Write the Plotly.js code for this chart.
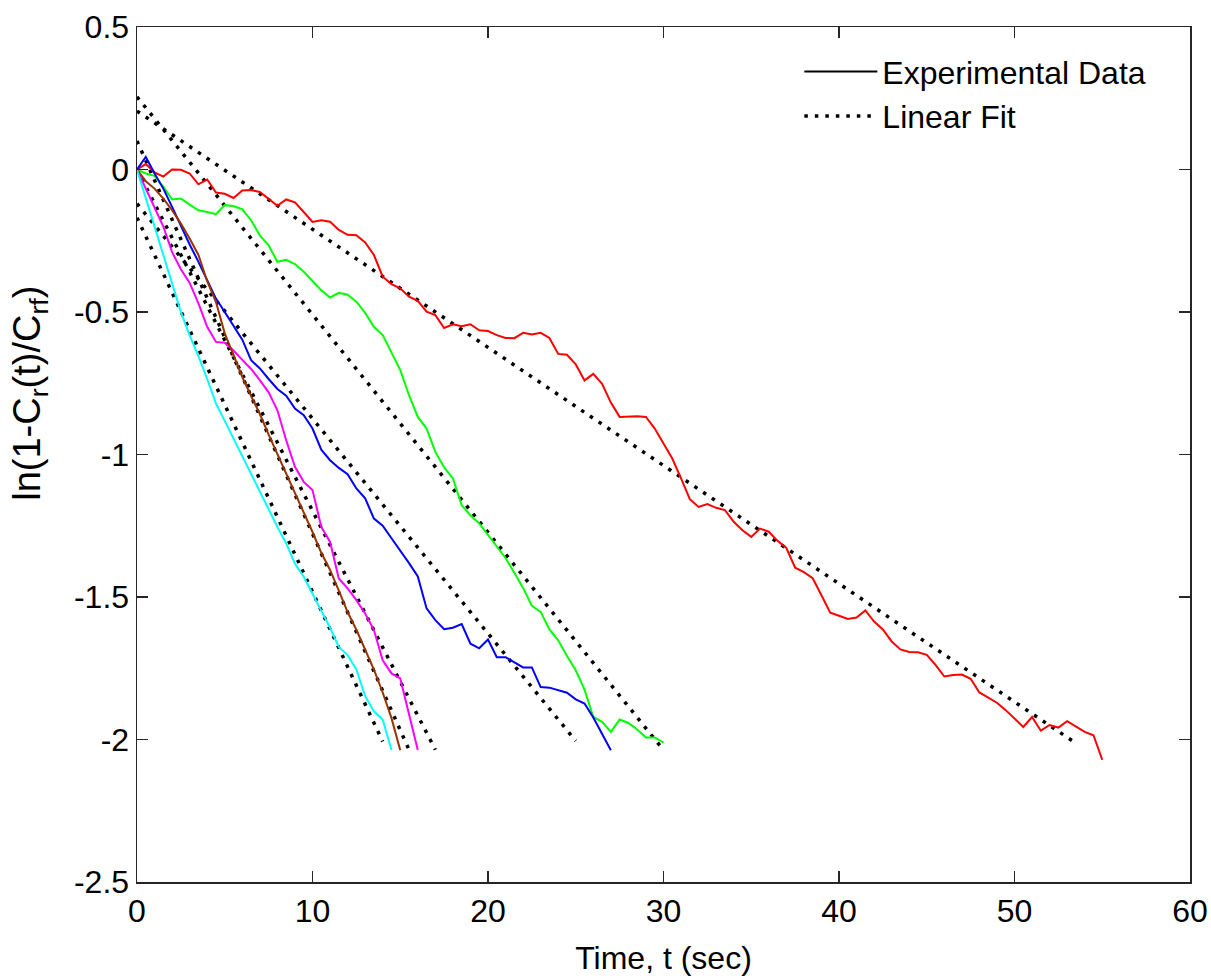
<!DOCTYPE html>
<html>
<head>
<meta charset="utf-8">
<script src="https://cdn.plot.ly/plotly-3.0.1.min.js"></script>
<style>html,body{margin:0;padding:0;background:#fff;}</style>
</head>
<body>
<div id="chart" style="width:1211px;height:979px;"></div>
<script>
// Time axis (sec), sampled every 0.5 s
const time = [0,0.5,1,1.5,2,2.5,3,3.5,4,4.5,5,5.5,6,6.5,7,7.5,8,8.5,9,9.5,10,10.5,11,11.5,12,12.5,13,13.5,14,14.5,15,15.5,16,16.5,17,17.5,18,18.5,19,19.5,20,20.5,21,21.5,22,22.5,23,23.5,24,24.5,25,25.5,26,26.5,27,27.5,28,28.5,29,29.5,30,30.5,31,31.5,32,32.5,33,33.5,34,34.5,35,35.5,36,36.5,37,37.5,38,38.5,39,39.5,40,40.5,41,41.5,42,42.5,43,43.5,44,44.5,45,45.5,46,46.5,47,47.5,48,48.5,49,49.5,50,50.5,51,51.5,52,52.5,53,53.5,54,54.5,55];

const redData = [0,0.019,-0.010,-0.025,0.000,-0.001,-0.014,-0.052,-0.035,-0.081,-0.085,-0.100,-0.074,-0.072,-0.079,-0.102,-0.127,-0.105,-0.115,-0.149,-0.184,-0.178,-0.183,-0.212,-0.229,-0.231,-0.256,-0.300,-0.376,-0.402,-0.417,-0.446,-0.461,-0.499,-0.511,-0.556,-0.543,-0.550,-0.543,-0.564,-0.567,-0.581,-0.591,-0.592,-0.573,-0.579,-0.573,-0.591,-0.647,-0.650,-0.684,-0.740,-0.717,-0.752,-0.818,-0.868,-0.867,-0.866,-0.868,-0.909,-0.961,-1.014,-1.084,-1.157,-1.184,-1.174,-1.187,-1.195,-1.236,-1.266,-1.289,-1.260,-1.271,-1.303,-1.328,-1.397,-1.413,-1.434,-1.494,-1.555,-1.566,-1.577,-1.572,-1.547,-1.586,-1.614,-1.656,-1.684,-1.693,-1.694,-1.703,-1.738,-1.779,-1.774,-1.772,-1.787,-1.835,-1.854,-1.871,-1.897,-1.926,-1.956,-1.921,-1.969,-1.949,-1.958,-1.936,-1.956,-1.973,-1.985,-2.071];

const greenData = [0,-0.014,-0.022,-0.061,-0.105,-0.102,-0.123,-0.143,-0.149,-0.157,-0.125,-0.128,-0.140,-0.178,-0.231,-0.266,-0.324,-0.317,-0.332,-0.359,-0.391,-0.424,-0.449,-0.433,-0.439,-0.464,-0.503,-0.552,-0.581,-0.640,-0.704,-0.792,-0.868,-0.909,-0.991,-1.045,-1.084,-1.178,-1.213,-1.242,-1.283,-1.322,-1.363,-1.415,-1.468,-1.531,-1.552,-1.614,-1.652,-1.707,-1.757,-1.825,-1.921,-1.938,-1.973,-1.930,-1.942,-1.965,-1.993,-1.993,-2.011];

const blueData = [0,0.044,-0.014,-0.067,-0.131,-0.200,-0.263,-0.324,-0.391,-0.453,-0.500,-0.548,-0.597,-0.669,-0.698,-0.735,-0.770,-0.794,-0.839,-0.862,-0.909,-0.983,-1.020,-1.047,-1.069,-1.119,-1.154,-1.225,-1.250,-1.294,-1.337,-1.381,-1.428,-1.540,-1.581,-1.613,-1.608,-1.595,-1.664,-1.680,-1.649,-1.711,-1.711,-1.730,-1.747,-1.747,-1.816,-1.818,-1.826,-1.836,-1.859,-1.874,-1.923,-1.979,-2.038];

const magentaData = [0,-0.065,-0.135,-0.200,-0.290,-0.350,-0.398,-0.470,-0.552,-0.605,-0.608,-0.635,-0.668,-0.700,-0.739,-0.782,-0.845,-0.950,-1.043,-1.096,-1.125,-1.254,-1.307,-1.435,-1.470,-1.511,-1.558,-1.616,-1.722,-1.768,-1.786,-1.909,-2.037];

const brownData = [0,-0.041,-0.067,-0.102,-0.143,-0.190,-0.242,-0.300,-0.392,-0.465,-0.575,-0.655,-0.728,-0.795,-0.858,-0.930,-0.998,-1.068,-1.140,-1.205,-1.272,-1.345,-1.405,-1.478,-1.553,-1.615,-1.688,-1.755,-1.835,-1.925,-2.038];

const cyanData = [0,-0.100,-0.205,-0.305,-0.405,-0.500,-0.582,-0.655,-0.735,-0.821,-0.882,-0.944,-1.008,-1.073,-1.131,-1.196,-1.254,-1.312,-1.383,-1.429,-1.488,-1.546,-1.608,-1.675,-1.704,-1.754,-1.848,-1.901,-1.930,-2.037];

// Linear fits: [start, end] in time and value
const redFitT = [0, 53.5],     redFitY = [0.205, -2.013];
const greenFitT = [0, 30],     greenFitY = [0.255, -2.037];
const blueFitT = [0, 25],      blueFitY = [-0.12, -2.005];
const magentaFitT = [0, 17],   magentaFitY = [0.0, -2.036];
const brownFitT = [0, 15.5],   brownFitY = [0.10, -2.036];
const cyanFitT = [0, 14],      cyanFitY = [-0.169, -2.007];

const xTickVals = [0,10,20,30,40,50,60];
const xTickText = ['0','10','20','30','40','50','60'];
const yTickVals = [0.5,0,-0.5,-1,-1.5,-2,-2.5];
const yTickText = ['0.5','0','-0.5','-1','-1.5','-2','-2.5'];

const legendNames = ['Experimental Data','Linear Fit'];
const xTitle = 'Time, t (sec)';
const yTitle = 'ln(1-C<sub>r</sub>(t)/C<sub>rf</sub>)';

const FONT = 'Liberation Sans, Arial, Helvetica, sans-serif';
const FS = 32;
const fitLine = {color:'#000', width:3.5, dash:'3.5px,7px'};

function dataTrace(y, color){
  return {x: time.slice(0, y.length), y: y, mode:'lines', type:'scatter',
          line:{color:color, width:2}, showlegend:false, hoverinfo:'skip'};
}
function fitTrace(t, y){
  return {x: t, y: y, mode:'lines', type:'scatter', line:fitLine, showlegend:false, hoverinfo:'skip'};
}

const traces = [
  fitTrace(redFitT, redFitY),
  fitTrace(greenFitT, greenFitY),
  fitTrace(blueFitT, blueFitY),
  fitTrace(magentaFitT, magentaFitY),
  fitTrace(brownFitT, brownFitY),
  fitTrace(cyanFitT, cyanFitY),
  dataTrace(redData, '#ff0000'),
  dataTrace(greenData, '#00ff00'),
  dataTrace(blueData, '#0000ff'),
  dataTrace(magentaData, '#ff00ff'),
  dataTrace(brownData, '#993300'),
  dataTrace(cyanData, '#00ffff'),
  {x:[null], y:[null], mode:'lines', name:legendNames[0], line:{color:'#000', width:2}, showlegend:true},
  {x:[null], y:[null], mode:'lines', name:legendNames[1], line:{color:'#000', width:3.5, dash:'3.5px,7px'}, showlegend:true}
];

const axisCommon = {
  showgrid:false, zeroline:false, showline:true, mirror:'ticks',
  linecolor:'#262626', linewidth:1.5, ticks:'inside', ticklen:11, tickwidth:1.5, tickcolor:'#262626',
  tickfont:{family:FONT, size:FS, color:'#000'}
};

const layout = {
  width:1211, height:979,
  margin:{l:137, r:21, t:27, b:97},
  paper_bgcolor:'#fff', plot_bgcolor:'#fff',
  font:{family:FONT, color:'#000'},
  xaxis: Object.assign({}, axisCommon, {
    range:[0,60], tickvals:xTickVals, ticktext:xTickText,
    title:{text:xTitle, font:{family:FONT, size:FS, color:'#000'}, standoff:18}
  }),
  yaxis: Object.assign({}, axisCommon, {
    range:[-2.5,0.5], tickvals:yTickVals, ticktext:yTickText
  }),
  annotations:[{
    text:yTitle, xref:'paper', yref:'paper', x:-0.1016, y:0.571,
    xanchor:'center', yanchor:'middle', textangle:-90, showarrow:false,
    font:{family:FONT, size:38, color:'#000'}
  }],
  showlegend:true,
  legend:{x:0.629, y:0.98, xanchor:'left', yanchor:'top', bgcolor:'rgba(0,0,0,0)',
          font:{family:FONT, size:FS, color:'#000'}, itemwidth:73, tracegroupgap:0}
};

Plotly.newPlot('chart', traces, layout, {displayModeBar:false, staticPlot:true});
</script>
</body>
</html>
